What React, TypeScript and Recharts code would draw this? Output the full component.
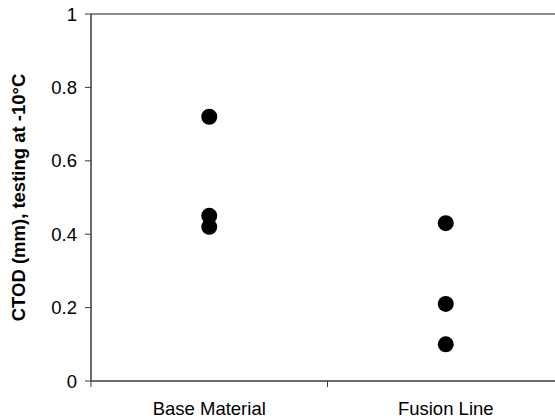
import React from "react";
import {
  ScatterChart,
  Scatter,
  XAxis,
  YAxis,
  ReferenceLine,
} from "recharts";

// categories along the x axis
const categories = ["Base Material", "Fusion Line"];
// CTOD values (mm) at -10°C
const baseMaterial = [0.72, 0.45, 0.42];
const fusionLine = [0.43, 0.21, 0.1];
// axis ticks
const yTicks = [0, 0.2, 0.4, 0.6, 0.8, 1];
const xTicks = [0, 0.5, 1, 1.5, 2];

const FONT = "'Liberation Sans', Arial, sans-serif";
const AXIS_COLOR = "#3a3a3a";

const toPoints = (vals: number[], cat: number) =>
  vals.map((v) => ({ x: cat + 0.5, y: v }));

// category boundaries get a small tick mark, centres get the label
function XTick(props: any) {
  const { x, y, payload } = props;
  const v = payload.value as number;
  if (Number.isInteger(v)) {
    return <line x1={x} x2={x} y1={y} y2={y + 6} stroke={AXIS_COLOR} strokeWidth={1} />;
  }
  return (
    <text
      x={x}
      y={y + 21}
      dy="0.71em"
      textAnchor="middle"
      fontFamily={FONT}
      fontSize={18.5}
      fill="#000"
    >
      {categories[Math.floor(v)]}
    </text>
  );
}

function YLabel(props: any) {
  const vb = props.viewBox ?? { x: 0, y: 14, width: 91, height: 367 };
  const cx = vb.x + 18;
  const cy = vb.y + vb.height / 2;
  return (
    <text
      x={cx}
      y={cy}
      transform={`rotate(-90, ${cx}, ${cy})`}
      textAnchor="middle"
      dominantBaseline="central"
      fontFamily={FONT}
      fontWeight="bold"
      fontSize={18.5}
      fill="#000"
    >
      CTOD (mm), testing at -10°C
    </text>
  );
}

const Dot = (props: any) => <circle cx={props.cx} cy={props.cy} r={8} fill="#000" />;

export default function App() {
  return (
    <div
      style={{
        position: "absolute",
        left: 0,
        top: 0,
        width: 555,
        height: 419,
        overflow: "hidden",
        background: "#fff",
      }}
    >
      <ScatterChart
        width={600}
        height={419}
        margin={{ top: 14, right: 36, left: 0, bottom: 0 }}
      >
        <XAxis
          type="number"
          dataKey="x"
          domain={[0, 2]}
          ticks={xTicks}
          interval={0}
          height={38}
          tickSize={0}
          tickMargin={0}
          tickLine={false}
          tick={<XTick />}
          axisLine={{ stroke: AXIS_COLOR, strokeWidth: 1.5 }}
        />
        <YAxis
          type="number"
          dataKey="y"
          domain={[0, 1]}
          ticks={yTicks}
          interval={0}
          width={91}
          tickSize={6}
          tickMargin={8}
          tickFormatter={(v: number) => String(v)}
          tick={{ fontFamily: FONT, fontSize: 18.5, fill: "#000" }}
          tickLine={{ stroke: AXIS_COLOR }}
          axisLine={{ stroke: AXIS_COLOR, strokeWidth: 1.5 }}
          label={<YLabel />}
        />
        <ReferenceLine y={1} stroke="#8c8c8c" strokeWidth={2} />
        <Scatter
          data={toPoints(baseMaterial, 0)}
          shape={<Dot />}
          isAnimationActive={false}
        />
        <Scatter
          data={toPoints(fusionLine, 1)}
          shape={<Dot />}
          isAnimationActive={false}
        />
      </ScatterChart>
    </div>
  );
}
